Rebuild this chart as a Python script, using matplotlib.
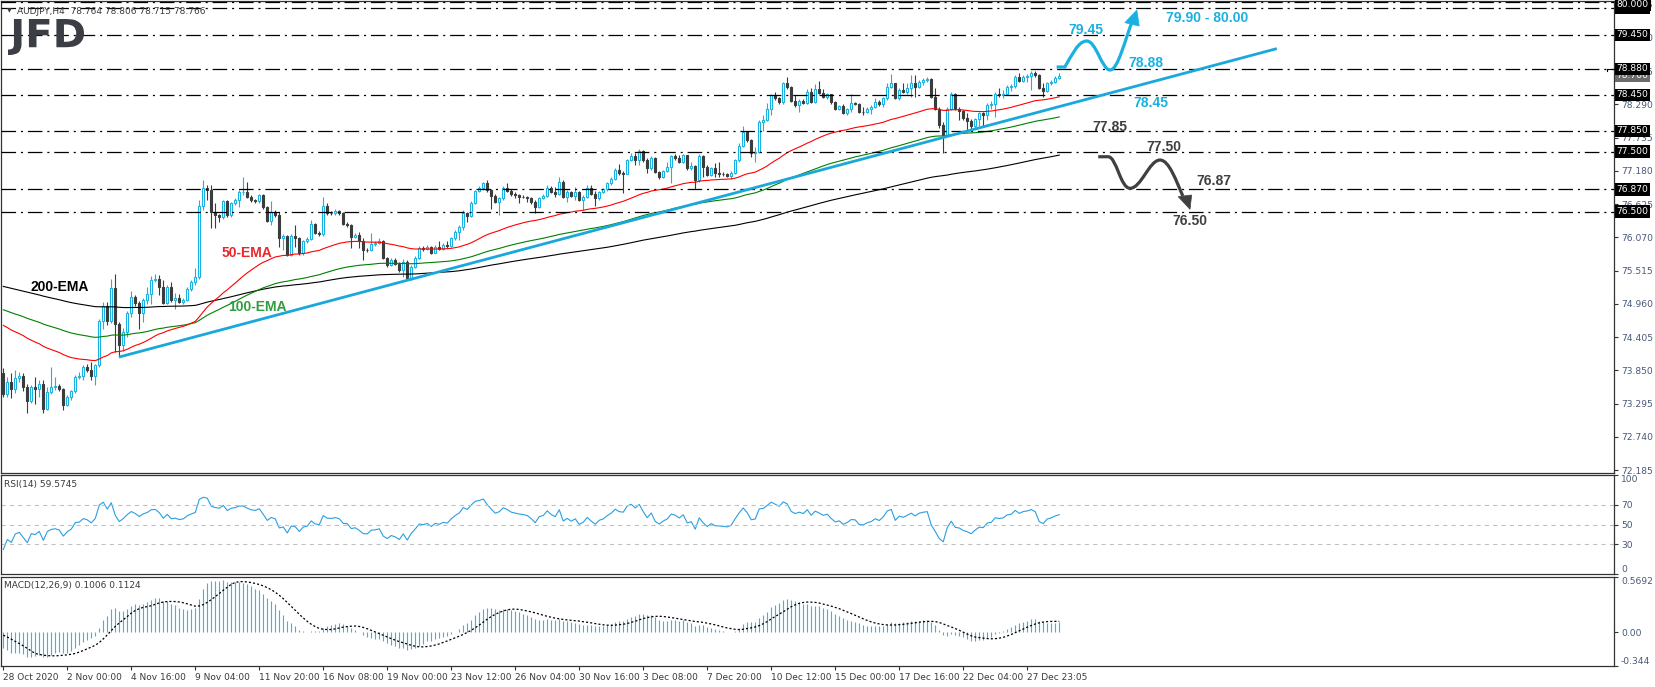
import numpy as np
import matplotlib.pyplot as plt
from matplotlib.path import Path
from matplotlib.patches import PathPatch, Polygon
from matplotlib.textpath import TextPath
from matplotlib.font_manager import FontProperties
from matplotlib.transforms import Affine2D, blended_transform_factory

plt.rcParams['lines.scale_dashes'] = False

# AUDJPY H4 candles (open = previous close)
first_open = 73.80
close = [
    73.46, 73.65, 73.53, 73.72, 73.76, 73.57, 73.33, 73.57, 73.53, 73.62,
    73.21, 73.49, 73.57, 73.59, 73.54, 73.27, 73.41, 73.50, 73.74, 73.76,
    73.90, 73.86, 73.76, 73.93, 74.68, 74.92, 74.67, 75.22, 74.63, 74.27,
    74.49, 74.81, 75.08, 74.97, 74.81, 75.02, 75.13, 75.36, 75.38, 75.24,
    74.97, 75.24, 75.02, 75.06, 74.99, 75.03, 75.21, 75.32, 75.41, 76.60,
    76.90, 76.86, 76.50, 76.44, 76.41, 76.67, 76.44, 76.64, 76.69, 76.83,
    76.83, 76.75, 76.69, 76.67, 76.77, 76.58, 76.35, 76.50, 76.44, 76.05,
    76.09, 75.78, 76.09, 76.05, 75.80, 76.00, 76.04, 76.29, 76.15, 76.12,
    76.59, 76.48, 76.47, 76.51, 76.47, 76.29, 76.28, 76.08, 76.11, 76.00,
    75.86, 75.85, 75.96, 75.97, 76.00, 75.72, 75.61, 75.69, 75.63, 75.52,
    75.66, 75.39, 75.58, 75.72, 75.89, 75.87, 75.91, 75.81, 75.91, 75.88,
    75.94, 75.92, 76.05, 76.16, 76.25, 76.47, 76.43, 76.64, 76.84, 76.89,
    76.98, 76.86, 76.76, 76.66, 76.72, 76.89, 76.85, 76.79, 76.77, 76.75,
    76.74, 76.72, 76.66, 76.58, 76.73, 76.76, 76.90, 76.83, 76.79, 77.00,
    76.75, 76.83, 76.76, 76.83, 76.69, 76.75, 76.89, 76.80, 76.72, 76.83,
    76.87, 76.97, 77.05, 77.19, 77.14, 77.13, 77.36, 77.43, 77.36, 77.51,
    77.36, 77.22, 77.39, 77.16, 77.08, 77.18, 77.25, 77.43, 77.40, 77.33,
    77.44, 77.22, 77.26, 77.02, 77.43, 77.25, 77.11, 77.22, 77.14, 77.13,
    77.12, 77.10, 77.15, 77.36, 77.59, 77.82, 77.69, 77.47, 77.50, 78.00,
    78.03, 78.22, 78.45, 78.39, 78.33, 78.64, 78.58, 78.35, 78.28, 78.35,
    78.31, 78.50, 78.33, 78.54, 78.48, 78.41, 78.46, 78.33, 78.22, 78.26,
    78.15, 78.21, 78.31, 78.30, 78.17, 78.16, 78.22, 78.25, 78.33, 78.29,
    78.39, 78.58, 78.64, 78.39, 78.53, 78.50, 78.57, 78.64, 78.58, 78.67,
    78.70, 78.72, 78.42, 78.22, 77.94, 77.78, 78.21, 78.47, 78.21, 78.18,
    78.07, 78.01, 77.92, 78.04, 78.14, 78.12, 78.28, 78.30, 78.47, 78.45,
    78.47, 78.58, 78.60, 78.75, 78.68, 78.75, 78.77, 78.82, 78.78, 78.56,
    78.51, 78.64, 78.67, 78.73, 78.766,
]
high = [
    73.89, 73.74, 73.80, 73.85, 73.82, 73.80, 73.62, 73.60, 73.74, 73.68,
    73.69, 73.57, 73.91, 73.74, 73.62, 73.56, 73.44, 73.52, 73.77, 73.82,
    73.93, 73.96, 73.99, 73.96, 74.71, 74.99, 74.99, 75.38, 75.46, 74.66,
    74.55, 74.84, 75.18, 75.10, 75.00, 75.05, 75.24, 75.42, 75.46, 75.44,
    75.35, 75.27, 75.32, 75.14, 75.13, 75.06, 75.24, 75.35, 75.55, 76.70,
    77.02, 76.95, 76.95, 76.64, 76.46, 76.69, 76.70, 76.66, 76.72, 76.86,
    77.07, 76.99, 76.78, 76.71, 76.80, 76.79, 76.59, 76.67, 76.53, 76.50,
    76.12, 76.11, 76.12, 76.28, 76.08, 76.03, 76.07, 76.36, 76.31, 76.18,
    76.75, 76.65, 76.51, 76.54, 76.53, 76.49, 76.33, 76.30, 76.14, 76.16,
    76.05, 75.89, 76.14, 76.00, 76.05, 76.02, 75.74, 75.72, 75.72, 75.65,
    75.70, 75.69, 75.60, 75.75, 75.92, 75.93, 75.94, 75.93, 75.94, 76.00,
    75.97, 76.00, 76.08, 76.19, 76.28, 76.52, 76.50, 76.67, 76.86, 76.92,
    77.00, 77.03, 76.87, 76.80, 76.74, 76.92, 76.97, 76.87, 76.82, 76.80,
    76.77, 76.76, 76.74, 76.69, 76.75, 76.79, 76.94, 76.92, 76.91, 77.08,
    77.03, 76.86, 76.85, 76.91, 76.85, 76.78, 76.94, 76.94, 76.84, 76.85,
    76.90, 77.00, 77.08, 77.22, 77.30, 77.17, 77.38, 77.47, 77.47, 77.54,
    77.53, 77.39, 77.42, 77.41, 77.18, 77.20, 77.33, 77.45, 77.46, 77.44,
    77.46, 77.45, 77.33, 77.28, 77.46, 77.45, 77.27, 77.24, 77.31, 77.33,
    77.16, 77.15, 77.18, 77.38, 77.64, 77.92, 77.85, 77.71, 77.58, 78.03,
    78.11, 78.31, 78.47, 78.50, 78.42, 78.66, 78.74, 78.60, 78.44, 78.38,
    78.38, 78.55, 78.57, 78.63, 78.68, 78.55, 78.48, 78.47, 78.35, 78.28,
    78.30, 78.23, 78.47, 78.33, 78.31, 78.25, 78.24, 78.28, 78.40, 78.36,
    78.42, 78.64, 78.79, 78.65, 78.56, 78.64, 78.64, 78.78, 78.78, 78.70,
    78.73, 78.75, 78.73, 78.56, 78.25, 77.99, 78.24, 78.49, 78.48, 78.25,
    78.20, 78.15, 78.04, 78.06, 78.17, 78.17, 78.31, 78.35, 78.50, 78.56,
    78.53, 78.62, 78.63, 78.78, 78.81, 78.78, 78.79, 78.85, 78.85, 78.79,
    78.64, 78.66, 78.70, 78.76, 78.806,
]
low = [
    73.40, 73.40, 73.39, 73.47, 73.65, 73.50, 73.14, 73.30, 73.29, 73.40,
    73.14, 73.18, 73.45, 73.52, 73.50, 73.18, 73.26, 73.35, 73.47, 73.70,
    73.68, 73.82, 73.68, 73.61, 73.90, 74.54, 74.60, 74.64, 74.15, 74.07,
    74.18, 74.40, 74.74, 74.92, 74.54, 74.66, 74.96, 74.96, 75.33, 75.10,
    74.95, 74.95, 74.99, 74.88, 74.97, 74.96, 75.00, 75.18, 75.28, 75.38,
    76.52, 76.70, 76.22, 76.22, 76.33, 76.38, 76.41, 76.41, 76.61, 76.58,
    76.78, 76.73, 76.66, 76.64, 76.65, 76.55, 76.33, 76.28, 76.41, 75.91,
    75.86, 75.75, 75.76, 75.91, 75.78, 75.78, 75.98, 76.02, 76.12, 76.09,
    76.10, 76.44, 76.44, 76.45, 76.44, 76.27, 76.25, 75.89, 76.05, 75.89,
    75.69, 75.82, 75.84, 75.93, 75.95, 75.70, 75.58, 75.59, 75.60, 75.49,
    75.41, 75.37, 75.36, 75.56, 75.70, 75.84, 75.85, 75.79, 75.80, 75.86,
    75.86, 75.89, 75.90, 76.03, 76.02, 76.20, 76.33, 76.41, 76.62, 76.82,
    76.86, 76.83, 76.55, 76.64, 76.44, 76.70, 76.82, 76.76, 76.72, 76.65,
    76.72, 76.66, 76.63, 76.47, 76.56, 76.71, 76.74, 76.81, 76.75, 76.77,
    76.73, 76.66, 76.74, 76.69, 76.67, 76.52, 76.72, 76.78, 76.59, 76.70,
    76.81, 76.85, 76.95, 77.02, 77.11, 76.81, 77.12, 77.34, 77.28, 77.28,
    77.33, 77.14, 77.19, 77.14, 77.05, 77.06, 77.16, 76.98, 77.36, 77.31,
    77.31, 77.19, 77.19, 76.87, 77.00, 77.08, 77.09, 77.09, 77.08, 77.08,
    77.10, 77.07, 77.05, 77.12, 77.33, 77.57, 77.66, 77.41, 77.33, 77.48,
    77.85, 78.01, 78.11, 78.36, 78.30, 78.30, 78.55, 78.33, 78.25, 78.16,
    78.29, 78.29, 78.31, 78.31, 78.46, 78.39, 78.38, 78.30, 78.19, 78.20,
    78.13, 78.11, 78.17, 78.28, 78.14, 78.11, 78.14, 78.13, 78.23, 78.27,
    78.25, 78.36, 78.56, 78.38, 78.37, 78.48, 78.47, 78.42, 78.42, 78.56,
    78.62, 78.66, 78.40, 78.19, 77.89, 77.47, 77.76, 78.19, 78.19, 78.03,
    78.03, 77.83, 77.86, 77.90, 77.92, 77.92, 78.03, 78.21, 78.08, 78.42,
    78.40, 78.45, 78.52, 78.56, 78.67, 78.66, 78.66, 78.53, 78.74, 78.55,
    78.42, 78.49, 78.62, 78.65, 78.715,
]

# indicator state at the first bar / before it
ema_seeds = {50: 74.60, 100: 74.86, 200: 75.25}
macd_seed_fast, macd_seed_slow = 74.25, 74.35
macd_prior = -0.012
rsi_seed_gain, rsi_seed_loss = 0.025, 0.05

# horizontal levels and the trend line
levels = [80.00, 79.90, 79.45, 78.88, 78.45, 77.85, 77.50, 76.87, 76.50]
trend_x = [28.9, 318.4]
trend_y = [74.07, 79.22]

price_ticks = [72.185, 72.740, 73.295, 73.850, 74.405, 74.960, 75.515, 76.070,
               76.625, 77.180, 77.735, 78.290, 78.845, 79.400, 79.955]
date_bars = [0, 16, 32, 48, 64, 80, 96, 112, 128, 144, 160, 176, 192, 208, 224, 240, 256]
date_labels = ['28 Oct 2020', '2 Nov 00:00', '4 Nov 16:00', '9 Nov 04:00', '11 Nov 20:00',
               '16 Nov 08:00', '19 Nov 00:00', '23 Nov 12:00', '26 Nov 04:00', '30 Nov 16:00',
               '3 Dec 08:00', '7 Dec 20:00', '10 Dec 12:00', '15 Dec 00:00', '17 Dec 16:00',
               '22 Dec 04:00', '27 Dec 23:05']

close = np.array(close)
high = np.array(high)
low = np.array(low)
opens = np.r_[first_open, close[:-1]]
x = np.arange(len(close))


def ema(values, n, seed):
    out = [seed]
    a = 2.0 / (n + 1)
    for v in values[1:]:
        out.append(out[-1] + a * (v - out[-1]))
    return np.array(out)


# MACD (MT4 style: main = EMA12-EMA26, signal = SMA9 of main)
e12, e26 = macd_seed_fast, macd_seed_slow
macd = []
for c in close:
    e12 += (c - e12) * 2 / 13
    e26 += (c - e26) * 2 / 27
    macd.append(e12 - e26)
macd = np.array(macd)
padded = np.r_[np.full(8, macd_prior), macd]
signal = np.convolve(padded, np.ones(9) / 9, mode='valid')

# RSI(14), Wilder smoothing
ag, al = rsi_seed_gain, rsi_seed_loss
rsi = []
prev = first_open
for c in close:
    ch = c - prev
    ag = (ag * 13 + max(ch, 0)) / 14
    al = (al * 13 + max(-ch, 0)) / 14
    rsi.append(100 - 100 / (1 + ag / al))
    prev = c
rsi = np.array(rsi)

# ---- figure ----
W, H = 1655, 687
fig = plt.figure(figsize=(W / 100, H / 100), dpi=100)


def axes_px(x0, y0, x1, y1):
    return fig.add_axes([x0 / W, 1 - y1 / H, (x1 - x0) / W, (y1 - y0) / H])


ax = axes_px(1, 1, 1614, 473)
ax_rsi = axes_px(1, 475, 1614, 574)
ax_macd = axes_px(1, 577, 1614, 666)

BULL = '#1ab2e0'
BEAR = '#3c3c3c'
TICKC = '#485878'
xlim = (-0.575, 402.7)

for a in (ax, ax_rsi, ax_macd):
    a.set_xlim(*xlim)
    a.yaxis.tick_right()
    a.tick_params(axis='y', direction='out', length=3, width=0.8, color='#333333',
                  labelsize=6.6, labelcolor=TICKC, pad=2)
    a.tick_params(axis='x', bottom=False, labelbottom=False)
    for s in a.spines.values():
        s.set_color('#333333')
        s.set_linewidth(0.9)

# candles
up = close >= opens
ax.vlines(x[up], low[up], high[up], color=BULL, lw=0.8, zorder=2)
ax.vlines(x[~up], low[~up], high[~up], color=BEAR, lw=0.8, zorder=2)
body = np.maximum(np.abs(close - opens), 0.004)
ax.bar(x[up], body[up], bottom=opens[up], width=0.55, facecolor='white',
       edgecolor=BULL, linewidth=0.8, zorder=3)
ax.bar(x[~up], body[~up], bottom=close[~up], width=0.55, facecolor=BEAR,
       edgecolor=BEAR, linewidth=0.8, zorder=3)

# moving averages
ax.plot(x, ema(close, 200, ema_seeds[200]), color='black', lw=0.8, zorder=4)
ax.plot(x, ema(close, 100, ema_seeds[100]), color='#008000', lw=0.8, zorder=4)
ax.plot(x, ema(close, 50, ema_seeds[50]), color='#ff0000', lw=0.8, zorder=4)

# levels and trend line
for lv in levels:
    ax.axhline(lv, color='black', lw=0.9, linestyle=(0, (10.5, 3.5, 1.5, 3.5)), zorder=4)
ax.plot(trend_x, trend_y, color='#1aa8dc', lw=2.0, solid_capstyle='butt', zorder=5)

ax.set_ylim(72.135, 80.015)
ax.set_yticks(price_ticks)
ax.set_yticklabels(['%.3f' % t for t in price_ticks])

# right-axis boxes (the top one is kept inside the window, as the terminal does)
ytr = blended_transform_factory(ax.transAxes, ax.transData)
ax.text(1.0017, close[-1], '%.3f' % close[-1], transform=ytr, fontsize=6.6, color='white',
        va='center', ha='left', clip_on=False, zorder=10,
        bbox=dict(boxstyle='square,pad=0.18', fc='#6b6b6b', ec='none'))
for lv in sorted(levels):
    ax.text(1.0017, min(lv, 79.95), '%.3f' % lv, transform=ytr, fontsize=6.6, color='white',
            va='center', ha='left', clip_on=False, zorder=11,
            bbox=dict(boxstyle='square,pad=0.18', fc='black', ec='none'))
# small price marker at the current level
ax.plot([400.9, 402.7], [78.88, 78.88], color='black', lw=0.8, clip_on=False, zorder=9)
ax.plot([400.9, 400.9], [78.88, 78.84], color='black', lw=0.8, clip_on=False, zorder=9)

# EMA labels
ax.text(14.2, 75.24, '200-EMA', color='black', fontsize=10, fontweight='bold',
        family='Liberation Sans', ha='center', va='center', zorder=6)
ax.text(60.9, 75.81, '50-EMA', color='#e8282a', fontsize=10, fontweight='bold',
        family='Liberation Sans', ha='center', va='center', zorder=6)
ax.text(63.4, 74.91, '100-EMA', color='#2e9e3e', fontsize=10, fontweight='bold',
        family='Liberation Sans', ha='center', va='center', zorder=6)

# scenario arrows
UPC = '#1ab0e0'
DNC = '#404040'
up_path = Path([(263.35, 78.913), (265.4, 78.913),
                (267.2, 79.113), (268.7, 79.347), (270.9, 79.347),
                (273.2, 79.347), (274.7, 78.863), (276.7, 78.863),
                (278.7, 78.863), (280.4, 79.364), (282.4, 79.70)],
               [Path.MOVETO, Path.LINETO,
                Path.CURVE4, Path.CURVE4, Path.CURVE4,
                Path.CURVE4, Path.CURVE4, Path.CURVE4,
                Path.CURVE4, Path.CURVE4, Path.CURVE4])
ax.add_patch(PathPatch(up_path, fc='none', ec=UPC, lw=2.3, zorder=6, capstyle='butt'))
ax.add_patch(Polygon([(283.4, 79.864), (280.4, 79.653), (284.0, 79.597)], closed=True,
                     fc=UPC, ec=UPC, lw=0.5, zorder=6))

dn_path = Path([(273.75, 77.415), (276.25, 77.415),
                (278.3, 77.415), (279.3, 76.888), (281.7, 76.888),
                (284.5, 76.888), (286.5, 77.36), (289.2, 77.36),
                (291.5, 77.36), (293.3, 77.0), (294.9, 76.76)],
               [Path.MOVETO, Path.LINETO,
                Path.CURVE4, Path.CURVE4, Path.CURVE4,
                Path.CURVE4, Path.CURVE4, Path.CURVE4,
                Path.CURVE4, Path.CURVE4, Path.CURVE4])
ax.add_patch(PathPatch(dn_path, fc='none', ec=DNC, lw=2.3, zorder=6, capstyle='butt'))
ax.add_patch(Polygon([(296.7, 76.537), (293.75, 76.748), (297.1, 76.776)], closed=True,
                     fc=DNC, ec=DNC, lw=0.5, zorder=6))

lab = dict(fontsize=10, fontweight='bold', family='Liberation Sans', ha='center',
           va='center', zorder=7)
ax.text(270.7, 79.53, '79.45', color=UPC, **lab)
ax.text(285.7, 78.98, '78.88', color=UPC, **lab)
ax.text(300.9, 79.73, '79.90 - 80.00', color=UPC, **lab)
ax.text(286.9, 78.31, '78.45', color=UPC, **lab)
ax.text(276.7, 77.91, '77.85', color=DNC, **lab)
ax.text(290.2, 77.58, '77.50', color=DNC, **lab)
ax.text(302.7, 77.01, '76.87', color=DNC, **lab)
ax.text(296.7, 76.34, '76.50', color=DNC, **lab)

# header and logo
fig.text(7 / W, 1 - 11 / H, '\u25bc', fontsize=4.5, color='#3a3a3a', va='center', ha='left')
fig.text(17 / W, 1 - 11 / H, 'AUDJPY,H4  78.764 78.806 78.715 78.766', fontsize=6.5,
         color='#3a3a3a', va='center', ha='left')
tp = TextPath((0, 0), 'JFD', size=100, prop=FontProperties(family='DejaVu Sans', weight='bold'))
bb = tp.get_extents()
sx = 76 / bb.width
sy = 36 / bb.height
tr = Affine2D().translate(-bb.x0, -bb.y0).scale(sx, sy).translate(8, H - 55)
fig.patches.append(PathPatch(tr.transform_path(tp), fc='#3b3e44', ec='none',
                             transform=None, figure=fig))

# RSI panel
ax_rsi.plot(x, rsi, color='#2a9fe0', lw=0.8)
for lv in (70, 50, 30):
    ax_rsi.axhline(lv, color='#c0c0c0', lw=0.8, linestyle=(0, (3, 3)))
ax_rsi.set_ylim(0, 100)
ax_rsi.set_yticks([100, 70, 50, 30, 0])
ax_rsi.set_yticklabels(['100', '70', '50', '30', '0'])
ax_rsi.text(0.002, 0.95, 'RSI(14) 59.5745', transform=ax_rsi.transAxes, fontsize=6.5,
            color='#3a3a3a', va='top', ha='left')

# MACD panel
ax_macd.vlines(x, 0, macd, color='#33b5e5', lw=0.8)
ax_macd.plot(x, signal, color='black', lw=0.9, linestyle=(0, (1.5, 1.5)))
ax_macd.set_ylim(-0.344, 0.5692)
ax_macd.set_yticks([0.5692, 0.0, -0.344])
ax_macd.set_yticklabels(['0.5692', '0.00', '-0.344'])
ax_macd.text(0.002, 0.95, 'MACD(12,26,9) 0.1006 0.1124', transform=ax_macd.transAxes,
             fontsize=6.5, color='#3a3a3a', va='top', ha='left')

# edge labels sit inside the panel, as in the terminal
for a in (ax_rsi, ax_macd):
    labs = a.get_yticklabels()
    labs[0].set_va('top')
    labs[-1].set_va('bottom')

ax_macd.tick_params(axis='x', bottom=True, labelbottom=True, direction='out', length=3,
                    width=0.8, color='#333333', labelsize=6.5, labelcolor='#3a3a3a', pad=2)
ax_macd.set_xticks(date_bars)
ax_macd.set_xticklabels(date_labels, ha='left')

fig.savefig('out.png', dpi=100)
